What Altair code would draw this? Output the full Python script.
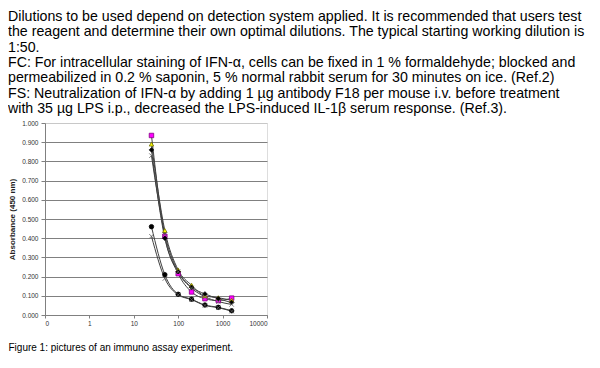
import altair as alt
import pandas as pd

# ---- data ----
dilution = [25, 50, 100, 200, 400, 800, 1600]
series_names = ["S1", "S2", "S3", "S4", "S5", "S6"]
s1 = [0.935, 0.410, 0.215, 0.120, 0.085, 0.075, 0.088]
s2 = [0.890, 0.440, 0.235, 0.155, 0.100, 0.090, 0.077]
s3 = [0.860, 0.400, 0.225, 0.145, 0.110, 0.085, 0.065]
s4 = [0.830, 0.420, 0.225, 0.140, 0.095, 0.070, 0.055]
s5 = [0.460, 0.210, 0.108, 0.082, 0.052, 0.040, 0.022]
s6 = [0.410, 0.190, 0.105, 0.080, 0.050, 0.038, 0.020]

x_tick_values = [0.1, 1, 10, 100, 1000, 10000]
y_tick_values = [0.0, 0.1, 0.2, 0.3, 0.4, 0.5, 0.6, 0.7, 0.8, 0.9, 1.0]

paragraph = [
    "Dilutions to be used depend on detection system applied. It is recommended that users test",
    "the reagent and determine their own optimal dilutions. The typical starting working dilution is",
    "1:50.",
    "FC: For intracellular staining of IFN-\u03b1, cells can be fixed in 1 % formaldehyde; blocked and",
    "permeabilized in 0.2 % saponin, 5 % normal rabbit serum for 30 minutes on ice. (Ref.2)",
    "FS: Neutralization of IFN-\u03b1 by adding 1 \u00b5g antibody F18 per mouse i.v. before treatment",
    "with 35 \u00b5g LPS i.p., decreased the LPS-induced IL-1\u03b2 serum response. (Ref.3).",
]
caption = "Figure 1: pictures of an immuno assay experiment."
y_title = "Absorbance (450 nm)"

# marker styles
xpath = "M-1,-1L1,1M-1,1L1,-1"
shapes = ["square", "triangle-up", "diamond", xpath, "circle", xpath]
fills = ["#ff00ff", "#ffff00", "#000000", "#606060", "#000000", "#606060"]
strokes = ["#800080", "#707000", "#000000", "#606060", "#000000", "#606060"]

rows = []
for name, vals in zip(series_names, [s1, s2, s3, s4, s5, s6]):
    for d, v in zip(dilution, vals):
        rows.append({"series": name, "dilution": d, "absorbance": v})
df = pd.DataFrame(rows)

font = "Liberation Sans"

x_enc = alt.X(
    "dilution:Q",
    scale=alt.Scale(type="log", domain=[0.1, 10000], nice=False),
    axis=alt.Axis(
        values=x_tick_values,
        labelExpr="datum.value < 1 ? '0' : format(datum.value, 'd')",
        grid=False,
        domainColor="#808080",
        tickColor="#808080",
        tickSize=3,
        labelPadding=2,
        labelFontSize=6.5,
        labelFont=font,
        labelColor="#333333",
        title=caption,
        titleFont=font,
        titleFontSize=10,
        titleFontWeight="normal",
        titleColor="#000000",
        titleAlign="left",
        titleAnchor="start",
        titleBaseline="alphabetic",
        titleX=-37,
        titleY=35.5,
    ),
)
y_enc = alt.Y(
    "absorbance:Q",
    scale=alt.Scale(domain=[0, 1], nice=False),
    axis=alt.Axis(
        values=y_tick_values,
        format=".3f",
        grid=True,
        gridColor={"condition": {"test": "datum.value >= 0.999", "value": "#c8c8c8"}, "value": "#808080"},
        gridWidth=1,
        domainColor="#808080",
        tickColor="#808080",
        tickSize=4,
        labelPadding=3,
        labelFontSize=6.5,
        labelFont=font,
        labelColor="#333333",
        title=y_title,
        titleFont=font,
        titleFontSize=8,
        titleFontWeight="bold",
        titleColor="#222222",
        titlePadding=5,
    ),
)

lines = alt.Chart(df).mark_line(interpolate="monotone", color="#404040", strokeWidth=1).encode(
    x=x_enc, y=y_enc, detail="series:N"
)
points = alt.Chart(df).mark_point(filled=True, size=20, strokeWidth=0.8, opacity=1).encode(
    x=x_enc,
    y=y_enc,
    shape=alt.Shape("series:N", scale=alt.Scale(domain=series_names, range=shapes), legend=None),
    fill=alt.Fill("series:N", scale=alt.Scale(domain=series_names, range=fills), legend=None),
    stroke=alt.Stroke("series:N", scale=alt.Scale(domain=series_names, range=strokes), legend=None),
)

chart = (
    alt.layer(lines, points)
    .properties(
        width=222,
        height=192,
        autosize=alt.AutoSizeParams(type="none"),
        padding={"left": 37, "top": 115, "right": 325, "bottom": 45},
        title=alt.TitleParams(
            text=paragraph,
            anchor="start",
            frame="group",
            align="left",
            baseline="bottom",
            dx=-37,
            dy=15.5,
            offset=5,
            font=font,
            fontSize=14.2,
            fontWeight="normal",
            color="#000000",
            lineHeight=15.4,
        ),
    )
    .configure_view(stroke="#c8c8c8")
    .configure(background="white")
)

chart.save("out.html", embed_options={"renderer": "svg", "actions": False})
